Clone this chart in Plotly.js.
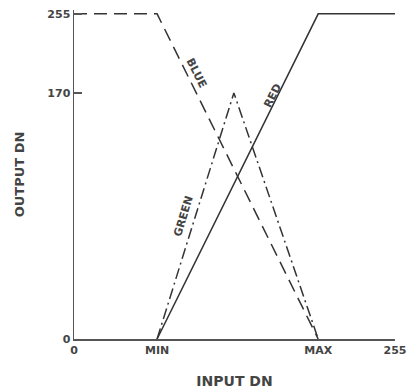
<!DOCTYPE html>
<html>
<head>
<meta charset="utf-8">
<script src="https://cdn.plot.ly/plotly-3.0.1.min.js"></script>
<style>html,body{margin:0;padding:0;background:#fff;}#chart{width:408px;height:392px;}</style>
</head>
<body>
<div id="chart"></div>
<script>
// Input DN positions (0..255 scale)
const inputMin = 66;
const inputMax = 194;
const inputTop = 255;
// Output levels as drawn (linear scale of the drawing; tick labelled "170" sits at 193)
const outTop = 255;
const greenPeakDrawn = 193;
const greenPeakX = 127;

const redX = [inputMin, inputMax, inputTop];
const redY = [0, outTop, outTop];
const blueX = [0, inputMin, inputMax];
const blueY = [outTop, outTop, 0];
const greenX = [inputMin, greenPeakX, inputMax];
const greenY = [0, greenPeakDrawn, 0];

const xTickVals = [0, inputMin, inputMax, inputTop];
const xTickText = ['0', 'MIN', 'MAX', '255'];
const yTickVals = [0, greenPeakDrawn, outTop];
const yTickText = ['0', '170', '255'];

const lineLabels = ['BLUE', 'RED', 'GREEN'];
const lineLabelX = [97, 158, 87];
const lineLabelY = [209, 191, 96];
const lineLabelAngle = [63.6, -63.2, -73];

const ink = '#333';
const textInk = '#444';
const tickFont = {family: 'DejaVu Sans', size: 11, color: textInk, weight: 'bold'};

const traces = [
  {x: redX, y: redY, mode: 'lines', line: {color: ink, width: 1.5}, hoverinfo: 'skip'},
  {x: blueX, y: blueY, mode: 'lines', line: {color: ink, width: 1.5, dash: '13px,7px'}, hoverinfo: 'skip'},
  {x: greenX, y: greenY, mode: 'lines', line: {color: ink, width: 1.5, dash: '11px,4px,2px,4px'}, hoverinfo: 'skip'},
  {x: [inputTop], y: [0], xaxis: 'x2', mode: 'markers', marker: {opacity: 0}, hoverinfo: 'skip'}
];

const annotations = lineLabels.map((t, i) => ({
  x: lineLabelX[i], y: lineLabelY[i], xref: 'x', yref: 'y', text: t,
  showarrow: false, textangle: lineLabelAngle[i], xanchor: 'center', yanchor: 'middle',
  font: {family: 'DejaVu Sans', size: 11, color: textInk, weight: 'bold'}
}));

const layout = {
  width: 408, height: 392,
  margin: {l: 74, r: 13, t: 10, b: 53},
  paper_bgcolor: '#fff', plot_bgcolor: '#fff',
  showlegend: false,
  xaxis: {
    range: [0, 255], tickvals: xTickVals, ticktext: xTickText, ticks: '',
    showgrid: false, zeroline: false, showline: true, linecolor: '#555', linewidth: 1.5,
    tickfont: tickFont, fixedrange: true,
    title: {text: 'INPUT DN', font: {family: 'DejaVu Sans', size: 14, color: textInk, weight: 'bold'}, standoff: 20}
  },
  xaxis2: {
    range: [0, 255], overlaying: 'x', anchor: 'y', side: 'bottom',
    tickvals: [inputTop], ticks: 'inside', ticklen: 9, tickwidth: 1.5, tickcolor: '#555',
    showticklabels: false, showgrid: false, zeroline: false, showline: false
  },
  yaxis: {
    range: [0, 258], tickvals: yTickVals, ticktext: yTickText, ticks: 'inside', ticklen: 8,
    tickwidth: 1.5, tickcolor: '#555',
    showgrid: false, zeroline: false, showline: true, linecolor: '#555', linewidth: 1.5,
    tickfont: tickFont, fixedrange: true,
    title: {text: 'OUTPUT DN', font: {family: 'DejaVu Sans', size: 13, color: textInk, weight: 'bold'}, standoff: 20}
  },
  annotations: annotations
};

Plotly.newPlot('chart', traces, layout, {staticPlot: true, displayModeBar: false});
</script>
</body>
</html>
